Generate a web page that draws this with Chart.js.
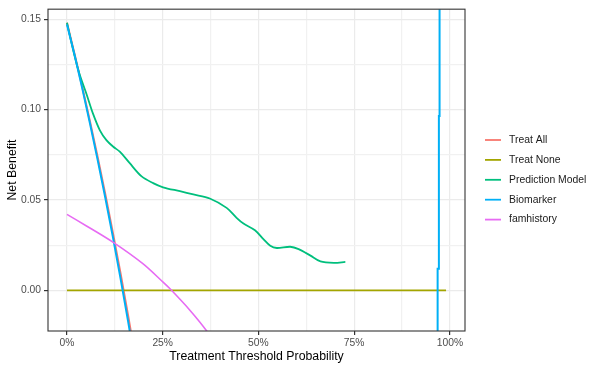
<!DOCTYPE html>
<html>
<head>
<meta charset="utf-8">
<script src="https://cdn.jsdelivr.net/npm/chart.js@4/dist/chart.umd.min.js"></script>
<style>
  html, body { margin: 0; padding: 0; background: #fff; }
  #wrap { width: 600px; height: 370px; }
</style>
</head>
<body>
<div id="wrap"><canvas id="myChart" width="600" height="370"></canvas></div>
<script>
// series (threshold, net benefit)
var seriesNames = ['Treat All', 'Treat None', 'Prediction Model', 'Biomarker', 'famhistory'];
var seriesColors = ['#F8766D', '#A3A500', '#00BF7D', '#00B0F6', '#E76BF3'];

var treatAllX = [0, 0.02, 0.04, 0.06, 0.08, 0.10, 0.12, 0.14, 0.16, 0.18];
var treatAllY = [0.148, 0.1306, 0.1125, 0.0936, 0.0739, 0.0533, 0.0318, 0.0093, -0.0143, -0.039];

var treatNoneX = [0, 0.99];
var treatNoneY = [0, 0];

var modelX = [0, 0.020, 0.033, 0.051, 0.068, 0.086, 0.103, 0.121, 0.138, 0.164, 0.195, 0.225, 0.251,
              0.295, 0.33, 0.373, 0.417, 0.443, 0.461, 0.491, 0.513, 0.531, 0.548, 0.583, 0.605,
              0.636, 0.662, 0.697, 0.727];
var modelY = [0.148, 0.1296, 0.1195, 0.1086, 0.0977, 0.0885, 0.0831, 0.0794, 0.0767, 0.0703, 0.0630, 0.0593, 0.057,
              0.0548, 0.053, 0.0508, 0.0456, 0.0401, 0.0369, 0.0332, 0.0283, 0.0246, 0.0234, 0.0241, 0.0228,
              0.0192, 0.016, 0.0152, 0.0157];

var biomarkerX = [0, 0.02, 0.04, 0.06, 0.08, 0.10, 0.12, 0.14, 0.16, 0.18, 0.5, 0.968, 0.968, 0.9713, 0.9713, 0.9731, 0.9731];
var biomarkerY = [0.147, 0.1302, 0.1117, 0.0924, 0.0723, 0.0513, 0.0294, 0.0065, -0.0175, -0.043, null, -0.04, 0.0119, 0.0119, 0.0964, 0.0964, 0.17];

var famX = [0, 0.051, 0.121, 0.199, 0.251, 0.273, 0.321, 0.365, 0.38];
var famY = [0.042, 0.0356, 0.0265, 0.0146, 0.0045, 0, -0.011, -0.0225, -0.028];

var xTicks = [0, 0.25, 0.5, 0.75, 1];
var xTickLabels = ['0%', '25%', '50%', '75%', '100%'];
var yTicks = [0, 0.05, 0.10, 0.15];
var yTickLabels = ['0.00', '0.05', '0.10', '0.15'];

function pts(xs, ys) {
    var out = [];
    for (var i = 0; i < xs.length; i++) out.push({x: xs[i], y: ys[i]});
    return out;
}

function ds(i, xs, ys, w, tension) {
    return {
        label: seriesNames[i],
        data: pts(xs, ys),
        borderColor: seriesColors[i],
        backgroundColor: seriesColors[i],
        borderWidth: w,
        pointRadius: 0,
        tension: tension,
        spanGaps: false,
        order: 5 - i
    };
}

var datasets = [
    ds(0, treatAllX, treatAllY, 2, 0),
    ds(1, treatNoneX, treatNoneY, 1.8, 0),
    ds(2, modelX, modelY, 1.8, 0.3),
    ds(3, biomarkerX, biomarkerY, 2, 0),
    ds(4, famX, famY, 1.6, 0.3)
];

function isMajor(v, list) {
    for (var i = 0; i < list.length; i++) if (Math.abs(v - list[i]) < 1e-6) return true;
    return false;
}

var frame = {
    id: 'frame',
    afterDatasetsDraw: function(chart) {
        var a = chart.chartArea, c = chart.ctx;
        c.save();
        c.strokeStyle = '#333333';
        c.lineWidth = 1.1;
        c.strokeRect(a.left, a.top, a.right - a.left, a.bottom - a.top);
        c.restore();
    },
    afterDraw: function(chart) {
        var c = chart.ctx;
        c.save();
        c.font = '10.4px "Liberation Sans", Arial, sans-serif';
        c.textBaseline = 'middle';
        for (var i = 0; i < seriesNames.length; i++) {
            var y = 140 + i * 19.9;
            c.strokeStyle = seriesColors[i];
            c.lineWidth = 1.8;
            c.beginPath();
            c.moveTo(485, y);
            c.lineTo(501, y);
            c.stroke();
            c.fillStyle = '#1a1a1a';
            c.fillText(seriesNames[i], 509, y);
        }
        c.restore();
    }
};

var tickFont = {family: '"Liberation Sans", Arial, sans-serif', size: 10.3};
var titleFont = {family: '"Liberation Sans", Arial, sans-serif', size: 12.3};

var ctx = document.getElementById('myChart');
var myChart = new Chart(ctx, {
    type: 'line',
    data: { datasets: datasets },
    plugins: [frame],
    options: {
        responsive: false,
        animation: false,
        layout: { padding: { left: 0, right: 135, top: 6, bottom: 0 } },
        plugins: { legend: { display: false }, tooltip: { enabled: false } },
        scales: {
            x: {
                type: 'linear',
                min: -0.0495,
                max: 1.0395,
                afterBuildTicks: function(scale) {
                    var t = [];
                    for (var v = 0; v <= 1.0001; v += 0.125) t.push({value: Math.round(v * 1000) / 1000});
                    scale.ticks = t;
                },
                afterFit: function(scale) { scale.height = 39; },
                ticks: {
                    autoSkip: false,
                    maxRotation: 0,
                    padding: 2,
                    color: '#4D4D4D',
                    font: tickFont,
                    callback: function(v) {
                        var k = xTicks.findIndex(function(t) { return Math.abs(t - v) < 1e-6; });
                        return k >= 0 ? xTickLabels[k] : '';
                    }
                },
                grid: {
                    drawTicks: true,
                    tickLength: 4,
                    color: function(c) { return isMajor(c.tick.value, xTicks) ? '#EBEBEB' : '#F1F1F1'; },
                    lineWidth: 1.2,
                    tickColor: function(c) { return isMajor(c.tick.value, xTicks) ? '#333333' : 'rgba(0,0,0,0)'; }
                },
                border: { display: false },
                title: {
                    display: true,
                    text: 'Treatment Threshold Probability',
                    color: '#000000',
                    font: titleFont,
                    padding: { top: 0, bottom: 6 }
                }
            },
            y: {
                type: 'linear',
                min: -0.0225,
                max: 0.1555,
                afterBuildTicks: function(scale) {
                    var t = [];
                    for (var v = 0; v <= 0.1501; v += 0.025) t.push({value: Math.round(v * 1000) / 1000});
                    scale.ticks = t;
                },
                afterFit: function(scale) { scale.width = 48; },
                ticks: {
                    autoSkip: false,
                    padding: 3,
                    color: '#4D4D4D',
                    font: tickFont,
                    callback: function(v) {
                        var k = yTicks.findIndex(function(t) { return Math.abs(t - v) < 1e-6; });
                        return k >= 0 ? yTickLabels[k] : '';
                    }
                },
                grid: {
                    drawTicks: true,
                    tickLength: 4,
                    color: function(c) { return isMajor(c.tick.value, yTicks) ? '#EBEBEB' : '#F1F1F1'; },
                    lineWidth: 1.2,
                    tickColor: function(c) { return isMajor(c.tick.value, yTicks) ? '#333333' : 'rgba(0,0,0,0)'; }
                },
                border: { display: false },
                title: {
                    display: true,
                    text: 'Net Benefit',
                    color: '#000000',
                    font: titleFont,
                    padding: { top: 5, bottom: 0 }
                }
            }
        }
    }
});
</script>
</body>
</html>
